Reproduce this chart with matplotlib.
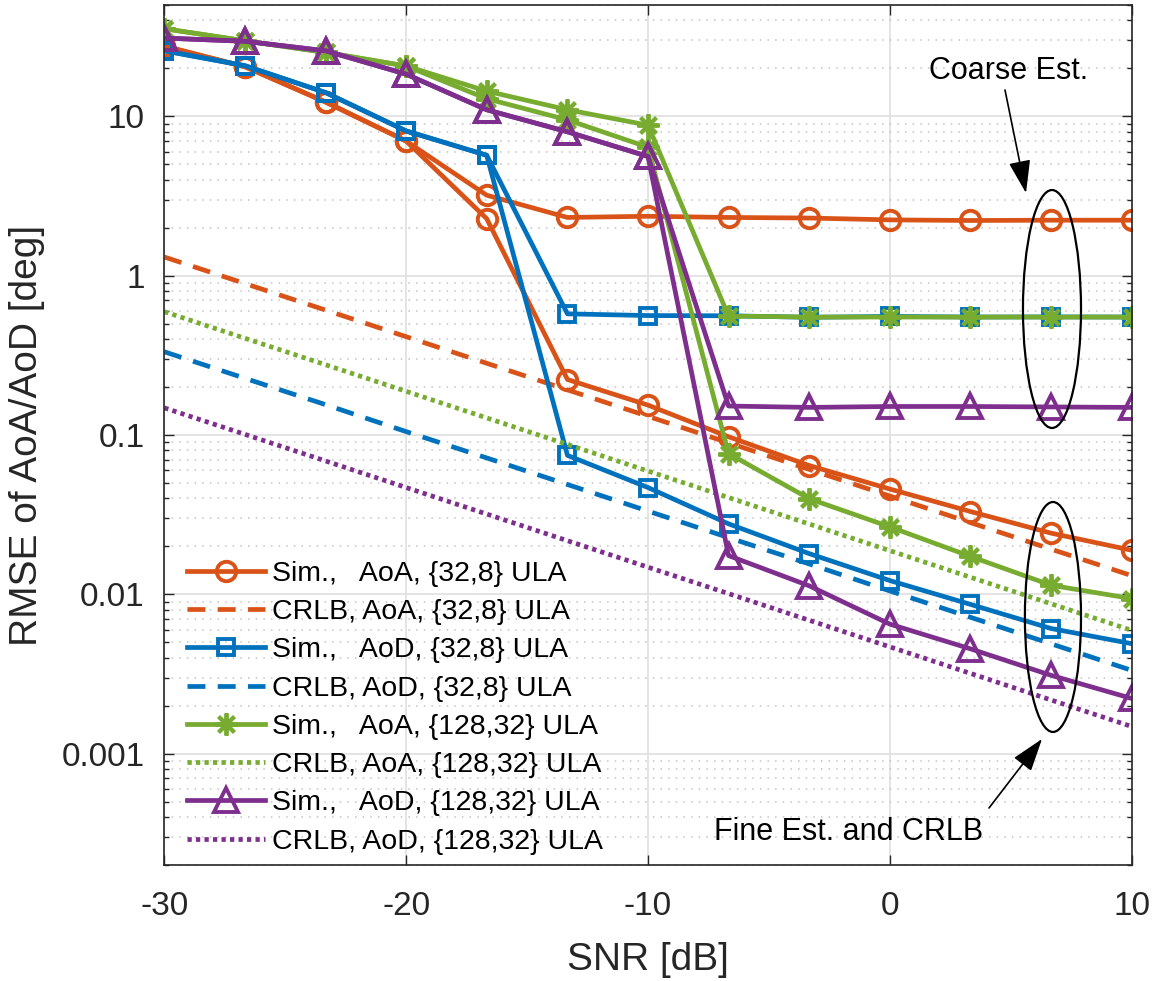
import numpy as np
import matplotlib.pyplot as plt
from matplotlib.patches import Ellipse
from matplotlib.ticker import LogLocator, NullFormatter

plt.rcParams['font.family'] = ['Liberation Sans', 'DejaVu Sans']

# SNR points [dB]
snr = [-30, -26.67, -23.33, -20, -16.67, -13.33, -10, -6.67, -3.33, 0, 3.33, 6.67, 10]

# {32,8} ULA, AoA
aoa32_coarse = [27.6, 20.5, 12.3, 7.0, 3.2, 2.32, 2.36, 2.32, 2.3, 2.24, 2.22, 2.23, 2.23]
aoa32_fine = [27.6, 20.5, 12.3, 7.0, 2.28, 0.223, 0.154, 0.0975, 0.0643, 0.0458, 0.0331, 0.0242, 0.0189]
aoa32_crlb = [1.31, 0.893, 0.608, 0.414, 0.282, 0.192, 0.131, 0.0893, 0.0608, 0.0414, 0.0282, 0.0192, 0.0131]
# {32,8} ULA, AoD
aod32_coarse = [25.8, 20.8, 14.1, 8.1, 5.7, 0.576, 0.562, 0.56, 0.548, 0.555, 0.55, 0.551, 0.55]
aod32_fine = [25.8, 20.8, 14.1, 8.1, 5.7, 0.0745, 0.0468, 0.0277, 0.018, 0.0122, 0.00865, 0.0061, 0.0049]
aod32_crlb = [0.333, 0.227, 0.155, 0.105, 0.0718, 0.0489, 0.0333, 0.0227, 0.0155, 0.0105, 0.00718, 0.00489, 0.00333]
# {128,32} ULA, AoA
aoa128_coarse = [35.5, 29.8, 25.2, 20.7, 14.4, 11.0, 8.8, 0.558, 0.55, 0.55, 0.55, 0.55, 0.55]
aoa128_fine = [35.5, 29.8, 25.2, 20.7, 12.9, 9.5, 6.4, 0.0765, 0.0398, 0.0265, 0.0173, 0.0114, 0.0094]
aoa128_crlb = [0.594, 0.405, 0.276, 0.188, 0.128, 0.0872, 0.0594, 0.0405, 0.0276, 0.0188, 0.0128, 0.00872, 0.00594]
# {128,32} ULA, AoD
aod128_coarse = [31.0, 29.6, 25.8, 18.4, 11.0, 8.0, 5.6, 0.152, 0.149, 0.151, 0.151, 0.15, 0.149]
aod128_fine = [31.0, 29.6, 25.8, 18.4, 11.0, 8.0, 5.6, 0.0175, 0.0113, 0.0065, 0.00455, 0.0031, 0.00222]
aod128_crlb = [0.148, 0.101, 0.0687, 0.0468, 0.0319, 0.0217, 0.0148, 0.0101, 0.00687, 0.00468, 0.00319, 0.00217, 0.00148]

c_or = '#D95319'
c_bl = '#0072BD'
c_gr = '#77AC30'
c_pu = '#7E2F8E'
star = (8, 2, 0)

fig = plt.figure(figsize=(11.57, 9.81), dpi=100)
ax = fig.add_axes([164.3/1157, 1-865/981, 967.4/1157, 860/981])

lw = 3.4
sim_kw = dict(lw=lw, mfc='none', mew=2.8)
dash = (3.8, 2.6)
dot = (0.9, 0.9)

ax.plot(snr, aoa32_fine, '-o', color=c_or, ms=14, label='Sim.,   AoA, {32,8} ULA', **sim_kw)
ax.plot(snr, aoa32_coarse, '-o', color=c_or, ms=14, label='_nolegend_', **sim_kw)
ax.plot(snr, aoa32_crlb, '--', color=c_or, lw=lw, dashes=dash, label='CRLB, AoA, {32,8} ULA')
ax.plot(snr, aod32_fine, '-s', color=c_bl, ms=12, label='Sim.,   AoD, {32,8} ULA', **sim_kw)
ax.plot(snr, aod32_coarse, '-s', color=c_bl, ms=12, label='_nolegend_', **sim_kw)
ax.plot(snr, aod32_crlb, '--', color=c_bl, lw=lw, dashes=dash, label='CRLB, AoD, {32,8} ULA')
ax.plot(snr, aoa128_fine, '-', marker=star, color=c_gr, ms=16, label='Sim.,   AoA, {128,32} ULA', **sim_kw)
ax.plot(snr, aoa128_coarse, '-', marker=star, color=c_gr, ms=16, label='_nolegend_', **sim_kw)
ax.plot(snr, aoa128_crlb, ':', color=c_gr, lw=lw, dashes=dot, label='CRLB, AoA, {128,32} ULA')
ax.plot(snr, aod128_fine, '-^', color=c_pu, ms=17, label='Sim.,   AoD, {128,32} ULA', **sim_kw)
ax.plot(snr, aod128_coarse, '-^', color=c_pu, ms=17, label='_nolegend_', **sim_kw)
ax.plot(snr, aod128_crlb, ':', color=c_pu, lw=lw, dashes=dot, label='CRLB, AoD, {128,32} ULA')

ax.set_yscale('log')
ax.set_xlim(-30, 10)
ax.set_ylim(2e-4, 50)
ax.set_xticks([-30, -20, -10, 0, 10])
ax.set_xticklabels(['-30', '-20', '-10', '0', '10'])
ax.set_yticks([1e-3, 1e-2, 1e-1, 1, 10])
ax.set_yticklabels(['0.001', '0.01', '0.1', '1', '10'])
ax.yaxis.set_minor_locator(LogLocator(base=10, subs=np.arange(2, 10)))
ax.yaxis.set_minor_formatter(NullFormatter())

tc = '#262626'
ax.tick_params(which='both', direction='in', top=True, right=True, colors=tc, width=1)
ax.tick_params(which='major', length=7, labelsize=24)
ax.tick_params(axis='x', which='major', pad=19)
ax.tick_params(axis='y', which='major', pad=14)
ax.tick_params(which='minor', length=3.5)
for s in ax.spines.values():
    s.set_color(tc)
    s.set_linewidth(1.2)

ax.grid(True, which='major', color='#e2e2e2', lw=1.3, ls='-')
ax.grid(True, which='minor', axis='y', color='#c4c4c4', lw=1.1, ls=(0, (1, 4)))
ax.set_axisbelow(True)

ax.set_xlabel('SNR [dB]', fontsize=28, color=tc, labelpad=14)
ax.set_ylabel('RMSE of AoA/AoD [deg]', fontsize=28, color=tc, labelpad=12)

ax.legend(loc='lower left', bbox_to_anchor=(0.0235, 0.012), frameon=False, fontsize=20.5,
          borderpad=0, borderaxespad=0, handlelength=2.74, handletextpad=0.25,
          labelspacing=0.43)

# ellipses marking coarse / fine estimates
ax.add_patch(Ellipse((0.9176, 0.6465), 0.060, 0.2767, transform=ax.transAxes,
                     fill=False, ec='k', lw=1.6, zorder=10))
ax.add_patch(Ellipse((0.9186, 0.2884), 0.058, 0.2674, transform=ax.transAxes,
                     fill=False, ec='k', lw=1.6, zorder=10))

arrow = dict(arrowstyle='-|>,head_length=0.6,head_width=0.2', lw=1.2, color='k',
             mutation_scale=34, shrinkA=0, shrinkB=0)
ax.annotate('', xy=(1026, 981-193), xycoords='figure pixels',
            xytext=(1005, 981-90), textcoords='figure pixels', arrowprops=arrow)
ax.annotate('', xy=(1042, 981-739), xycoords='figure pixels',
            xytext=(989, 981-808), textcoords='figure pixels', arrowprops=arrow)
fig.text(1009/1157, 1-71/981, 'Coarse Est.', fontsize=22, ha='center', va='center')
fig.text(848.5/1157, 1-832/981, 'Fine Est. and CRLB', fontsize=22, ha='center', va='center')

fig.savefig('out.png', dpi=100)
